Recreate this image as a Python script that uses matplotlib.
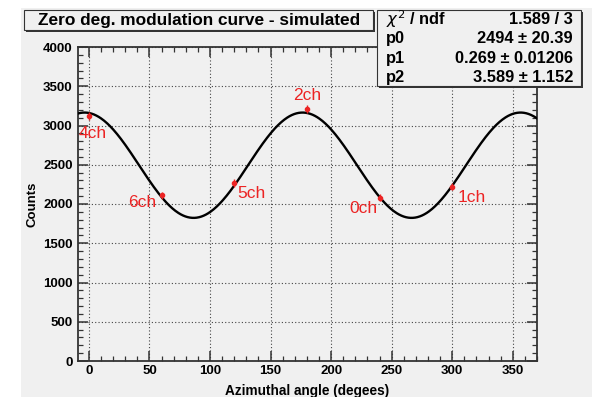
import numpy as np
import matplotlib.pyplot as plt
from matplotlib.patches import Rectangle
from matplotlib.ticker import MultipleLocator

plt.rcParams['font.family'] = ['Liberation Sans', 'DejaVu Sans']

# fit result shown in the stats box
p0, p1, p2 = 2494, 0.269, 3.589
p0_err, p1_err, p2_err = 20.39, 0.01206, 1.152
chi2, ndf = 1.589, 3

# measured points per channel
channels = ['0ch', '1ch', '2ch', '4ch', '5ch', '6ch']
angles = [240, 300, 180, 0, 120, 60]
counts = [2080, 2220, 3210, 3120, 2265, 2110]

# label placement (offset in pixels from the point, alignment)
label_offsets = {'0ch': (-2, -11, 'right'), '1ch': (5, -11, 'left'),
                 '2ch': (0, 14, 'center'), '4ch': (-10, -17, 'left'),
                 '5ch': (3, -10, 'left'), '6ch': (-5, -7, 'right')}

bg = '#f0f0f0'
red = '#ec2424'
W, H = 592, 397

fig = plt.figure(figsize=(W / 100, H / 100), dpi=100, facecolor='white')
fig.patches.append(Rectangle((20.5 / W, 0), 1, (H - 7.5) / H, transform=fig.transFigure,
                             facecolor=bg, edgecolor='none', zorder=-10))

ax = fig.add_axes([78 / W, (H - 361) / H, (537 - 78) / W, (361 - 47) / H])
ax.set_facecolor(bg)
ax.set_xlim(-9, 370)
ax.set_ylim(0, 4000)

# fitted modulation curve
phi = np.linspace(-9, 370, 600)
fit = p0 * (1 + p1 * np.cos(np.radians(2 * (phi + p2))))
ax.plot(phi, fit, color='black', lw=1.7, zorder=3)

ax.errorbar(angles, counts, yerr=np.sqrt(counts), fmt='o', ms=3, color=red,
            ecolor=red, elinewidth=1, capsize=0, zorder=4)
for ch, a, c in zip(channels, angles, counts):
    dx, dy, ha = label_offsets[ch]
    ax.annotate(ch, (a, c), xytext=(dx, dy), textcoords='offset pixels',
                ha=ha, va='center', color=red, fontsize=12.5, zorder=5)

ax.xaxis.set_major_locator(MultipleLocator(50))
ax.xaxis.set_minor_locator(MultipleLocator(10))
ax.yaxis.set_major_locator(MultipleLocator(500))
ax.yaxis.set_minor_locator(MultipleLocator(100))
ax.grid(True, which='major', color='#444444', lw=0.8, linestyle=(0, (1, 2)))
ax.tick_params(which='both', direction='in', top=True, right=True, color='#333333')
ax.tick_params(which='major', length=7, width=1.1, labelsize=9.5)
ax.tick_params(which='minor', length=3.6, width=0.9)
ax.tick_params(axis='y', pad=3.8)
ax.tick_params(axis='x', pad=3)
for lab in ax.get_xticklabels() + ax.get_yticklabels():
    lab.set_fontweight('bold')
for sp in ax.spines.values():
    sp.set_color('#333333')
    sp.set_linewidth(1.3)

ax.set_xlabel('Azimuthal angle (degees)', fontsize=9.8, fontweight='bold', labelpad=5)
ax.set_ylabel('Counts', fontsize=9.5, fontweight='bold', labelpad=3)


def box(x0, y0, x1, y1):
    # ROOT style pave with a dark shadow bottom-right
    fig.patches.append(Rectangle((x0 / W + 2 / W, (H - y1 - 2) / H), (x1 - x0) / W, (y1 - y0) / H,
                                 transform=fig.transFigure, facecolor='#333333',
                                 edgecolor='none', zorder=5))
    fig.patches.append(Rectangle((x0 / W, (H - y1) / H), (x1 - x0) / W, (y1 - y0) / H,
                                 transform=fig.transFigure, facecolor=bg,
                                 edgecolor='#333333', lw=0.8, zorder=6))


box(24, 10, 373, 30)
fig.text(199 / W, 1 - 20.5 / H, 'Zero deg. modulation curve - simulated', ha='center',
         va='center', fontsize=12.4, fontweight='bold', zorder=7)

box(377, 10, 581, 86)
rows = [(r'$\chi^2$ / ndf', f'{chi2} / {ndf}'),
        ('p0', f'{p0} \u00b1 {p0_err}'),
        ('p1', f'{p1} \u00b1 {p1_err}'),
        ('p2', f'{p2} \u00b1 {p2_err}')]
for k, (left, right) in enumerate(rows):
    yy = 1 - (19.5 + 19.3 * k) / H
    fig.text(386 / W, yy, left, ha='left', va='center', fontsize=11.8, fontweight='bold', zorder=7)
    fig.text(573 / W, yy, right, ha='right', va='center', fontsize=11.8, fontweight='bold', zorder=7)

fig.savefig('out.png', dpi=100, facecolor='white')
